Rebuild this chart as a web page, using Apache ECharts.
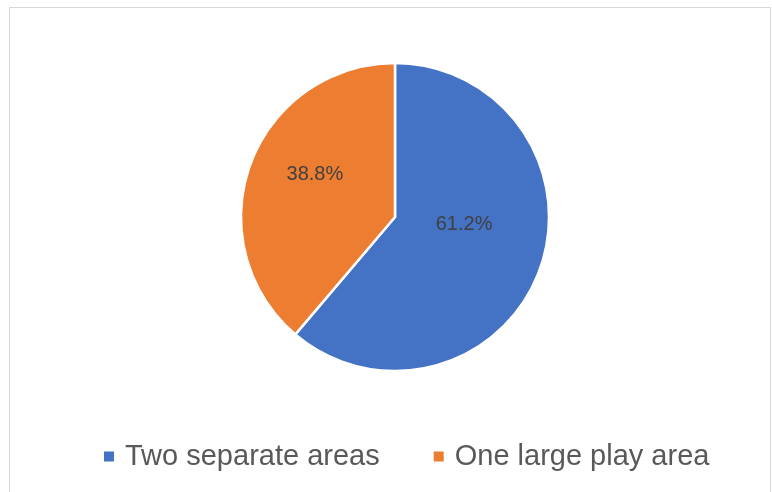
<!DOCTYPE html>
<html><head><meta charset="utf-8">
<script src="https://cdn.jsdelivr.net/npm/echarts@6/dist/echarts.min.js"></script>
<style>html,body{margin:0;padding:0;background:#fff;}
#frame{position:absolute;left:9px;top:7px;width:762px;height:500px;border:1px solid #d9d9d9;box-sizing:border-box;}
#c{position:absolute;left:0;top:0;width:772px;height:492px;}</style>
</head><body><div id="frame"></div><div id="c"></div>
<script>
const categories = ["Two separate areas", "One large play area"];
const values = [61.2, 38.8];
const colors = ["#4472C4", "#ED7D31"];
const labelOffsets = [[-6, -20], [-5, -15]];
const chart = echarts.init(document.getElementById('c'));
chart.setOption({
  animation: false,
  legend: {
    bottom: 16, left: 97, itemWidth: 12, itemHeight: 12, itemGap: 52,
    icon: 'rect',
    textStyle: {fontFamily: 'Liberation Sans', fontSize: 29, color: '#595959', padding: [0, 0, 0, 5]},
    data: categories
  },
  series: [{
    type: 'pie', center: [395, 217], radius: 154, startAngle: 90, clockwise: true,
    itemStyle: {borderColor: '#fff', borderWidth: 2.5},
    label: {position: 'inside', formatter: p => p.value.toFixed(1) + '%', fontFamily: 'Liberation Sans', fontSize: 20, color: '#404040'},
    labelLine: {show: false},
    data: categories.map((n, i) => ({name: n, value: values[i], itemStyle: {color: colors[i]}, label: {offset: labelOffsets[i]}}))
  }]
});
</script></body></html>
